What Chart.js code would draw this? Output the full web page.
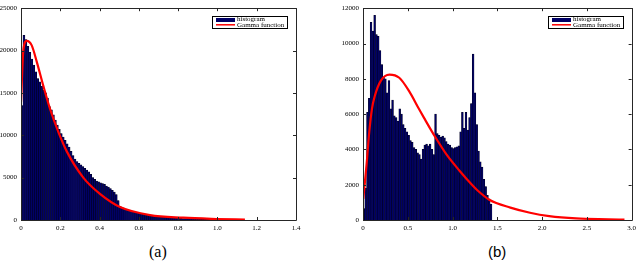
<!DOCTYPE html>
<html>
<head>
<meta charset="utf-8">
<script src="https://cdn.jsdelivr.net/npm/chart.js@4.4.1/dist/chart.umd.min.js"></script>
<style>
  body { margin: 0; background: #fff; width: 640px; height: 261px; overflow: hidden; position: relative; }
  .panel { position: absolute; top: 0; height: 261px; width: 320px; }
  .panel canvas { position: absolute; left: 0; top: 0; }
  .cap { position: absolute; top: 244px; font-size: 16px; line-height: 16px; color: #000; }
</style>
</head>
<body>
<div class="panel" style="left:0"><canvas id="chartA" width="320" height="235"></canvas>
  <div class="cap" style="left:149px;font-family:'Liberation Serif',serif">(a)</div></div>
<div class="panel" style="left:320px"><canvas id="chartB" width="320" height="235"></canvas>
  <div class="cap" style="left:168px;font-family:'Liberation Sans',sans-serif;font-size:15px">(b)</div></div>
<script>
// panel (a): histogram, bin width 0.01 starting at 0
const binStartA = 0;
const binWidthA = 0.01;
const histA = [13500, 21800, 21300, 20500, 19800, 19000, 18300, 17500, 16700, 16300,
  15800, 15300, 15000, 14400, 13400, 13000, 12400, 11800, 11200, 10700,
  10200, 9800, 9400, 9000, 8600, 8100, 7600, 7200, 6900, 6700,
  6500, 6300, 6100, 5900, 5700, 5400, 5000, 4800, 4600, 4500,
  4400, 4300, 4200, 4000, 3900, 3700, 3500, 3300, 3000, 2300,
  1600, 1500, 1400, 1300, 1200, 1100, 1030, 960, 900, 840,
  780, 730, 680, 640, 600, 560, 520, 490, 460, 430,
  400, 380, 350, 330, 310, 290, 270, 250, 235, 220,
  205, 190, 180, 165, 155, 145, 135, 125, 115, 108,
  100, 92, 85, 78, 72, 66, 60, 55, 50];
const gammaAx = [0, 0.012, 0.029, 0.054, 0.08, 0.114, 0.148, 0.19, 0.233, 0.317, 0.402, 0.504, 0.657, 0.826, 0.996, 1.14];
const gammaAy = [13900, 20060, 21150, 20640, 18700, 15800, 13100, 10400, 8100, 5010, 3090, 1540, 580, 270, 120, 40];
const xTicksA = [0, 0.2, 0.4, 0.6, 0.8, 1, 1.2, 1.4];
const yTicksA = [0, 5000, 10000, 15000, 20000, 25000];

// panel (b): histogram, bin width 0.02 starting at 0
const binStartB = 0;
const binWidthB = 0.02;
const histB = [650, 1800, 6100, 6900, 11200, 10700, 11600, 10500, 10400, 9600,
  8800, 8100, 8000, 7200, 7900, 6300, 6800, 5900, 5800, 5600,
  6300, 6000, 5400, 5200, 5000, 4800, 4500, 4400, 4100, 4000,
  3800, 3700, 3450, 4000, 4250, 4300, 4200, 4300, 4000, 3700,
  6000, 4900, 4800, 4700, 4750, 4650, 4450, 4300, 4250, 4100,
  4050, 4100, 4150, 4200, 5000, 6100, 5200, 6100, 5100, 5800,
  6600, 9400, 7200, 5400, 3900, 3300, 3000, 2300, 1900, 1400,
  1200, 900];
const gammaBx = [0.003, 0.04, 0.07, 0.1, 0.13, 0.2, 0.296, 0.405, 0.515, 0.624, 0.68, 0.807, 0.934, 1.08, 1.227, 1.28, 1.41, 1.646, 1.865, 2.08, 2.38, 2.74, 2.92];
const gammaBy = [1200, 3150, 5000, 6300, 7000, 7900, 8240, 8060, 7300, 6300, 5800, 4700, 3700, 2780, 1940, 1670, 1150, 700, 410, 220, 90, 40, 20];
const xTicksB = [0, 0.5, 1, 1.5, 2, 2.5, 3];
const yTicksB = [0, 2000, 4000, 6000, 8000, 10000, 12000];

const serif = "'Liberation Serif', 'Times New Roman', serif";

// box round the plot area, inward ticks on all four sides, and the legend
const framePlugin = {
  id: 'frame',
  afterDraw(chart) {
    const { ctx, chartArea: a, scales: { x, y } } = chart;
    ctx.save();
    ctx.strokeStyle = '#262626';
    ctx.lineWidth = 1;
    ctx.beginPath();
    ctx.rect(Math.round(a.left) + 0.5, Math.round(a.top) + 0.5, Math.round(a.width), Math.round(a.height));
    x.ticks.forEach(t => {
      const px = Math.round(x.getPixelForValue(t.value)) + 0.5;
      ctx.moveTo(px, a.bottom); ctx.lineTo(px, a.bottom - 3);
      ctx.moveTo(px, a.top); ctx.lineTo(px, a.top + 3);
    });
    y.ticks.forEach(t => {
      const py = Math.round(y.getPixelForValue(t.value)) + 0.5;
      ctx.moveTo(a.left, py); ctx.lineTo(a.left + 3, py);
      ctx.moveTo(a.right, py); ctx.lineTo(a.right - 3, py);
    });
    ctx.stroke();

    // legend
    const lx = Math.round(a.right) - 84, ly = Math.round(a.top) + 8;
    ctx.fillStyle = '#fff';
    ctx.fillRect(lx, ly, 75, 12);
    ctx.strokeStyle = '#000';
    ctx.strokeRect(lx + 0.5, ly + 0.5, 75, 12);
    ctx.fillStyle = '#000066';
    ctx.fillRect(lx + 4, ly + 2, 19, 4);
    ctx.strokeStyle = '#ff0000';
    ctx.lineWidth = 1.5;
    ctx.beginPath();
    ctx.moveTo(lx + 4, ly + 8.8); ctx.lineTo(lx + 23, ly + 8.8);
    ctx.stroke();
    ctx.fillStyle = '#000';
    ctx.font = '7px ' + serif;
    ctx.textBaseline = 'middle';
    ctx.fillText('histogram', lx + 25, ly + 3.5);
    ctx.fillText('Gamma function', lx + 25, ly + 9);
    ctx.restore();
  }
};

function makeChart(id, hist, binStart, binWidth, gx, gy, xTicks, yTicks, xMax, yMax, padLeft, yWidth, padRight) {
  const bars = hist.map((v, i) => ({ x: binStart + binWidth * (i + 0.5), y: v }));
  const curve = gx.map((v, i) => ({ x: v, y: gy[i] }));
  return new Chart(document.getElementById(id), {
    type: 'bar',
    data: {
      datasets: [
        {
          type: 'line',
          label: 'Gamma function',
          data: curve,
          borderColor: '#ff0000',
          borderWidth: 2.2,
          pointRadius: 0,
          cubicInterpolationMode: 'monotone',
          order: 0
        },
        {
          label: 'histogram',
          data: bars,
          backgroundColor: '#000066',
          borderColor: '#000018',
          borderWidth: 0.5,
          barPercentage: 1,
          categoryPercentage: 1,
          order: 1
        }
      ]
    },
    options: {
      responsive: false,
      animation: false,
      layout: { padding: { left: padLeft, top: 4, right: padRight, bottom: 0 } },
      plugins: { legend: { display: false }, tooltip: { enabled: false } },
      scales: {
        x: {
          type: 'linear',
          min: 0,
          max: xMax,
          offset: false,
          grid: { display: false, drawTicks: false },
          border: { display: false },
          afterBuildTicks: s => { s.ticks = xTicks.map(v => ({ value: v })); },
          afterFit: s => { s.height = 15; },
          ticks: { color: '#000', font: { family: serif, size: 7 }, padding: 4, maxRotation: 0 }
        },
        y: {
          min: 0,
          max: yMax,
          grid: { display: false, drawTicks: false },
          border: { display: false },
          afterBuildTicks: s => { s.ticks = yTicks.map(v => ({ value: v })); },
          afterFit: s => { s.width = yWidth; },
          ticks: { color: '#000', font: { family: serif, size: 7 }, padding: 4, callback: v => String(v) }
        }
      }
    },
    plugins: [framePlugin]
  });
}

makeChart('chartA', histA, binStartA, binWidthA, gammaAx, gammaAy, xTicksA, yTicksA, 1.4, 25000, 0, 21, 24);
makeChart('chartB', histB, binStartB, binWidthB, gammaBx, gammaBy, xTicksB, yTicksB, 3, 12000, 13, 30, 3);
</script>
</body>
</html>
